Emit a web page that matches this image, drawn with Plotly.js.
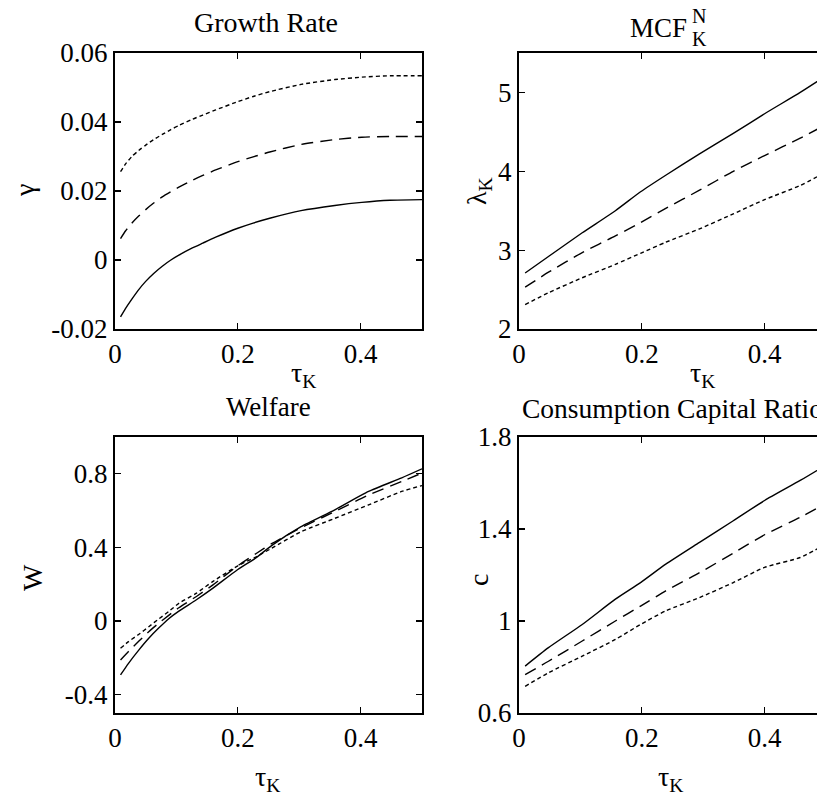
<!DOCTYPE html>
<html>
<head>
<meta charset="utf-8">
<script src="https://cdn.plot.ly/plotly-3.0.1.min.js"></script>
<style>
html, body { margin: 0; padding: 0; overflow: hidden; background: #fff; }
#chart { width: 830px; height: 798px; }
</style>
</head>
<body>
<div id="chart"></div>
<script>
// ---------- data ----------
const growthX = [0.009, 0.017, 0.028, 0.039, 0.05, 0.063, 0.077, 0.091, 0.104, 0.126, 0.143, 0.164, 0.2, 0.225, 0.252, 0.303, 0.358, 0.402, 0.448, 0.5];
const growthSolid  = [-0.0165, -0.0141, -0.0112, -0.0085, -0.0062, -0.0039, -0.0018, 0.0, 0.0014, 0.0035, 0.0049, 0.0066, 0.0092, 0.0107, 0.0121, 0.0143, 0.0158, 0.0167, 0.0173, 0.0175];
const growthDashed = [0.0062, 0.0084, 0.0108, 0.0128, 0.0146, 0.0165, 0.0183, 0.0198, 0.0211, 0.0231, 0.0245, 0.0261, 0.0285, 0.0299, 0.0313, 0.0335, 0.0349, 0.0356, 0.0358, 0.0358];
const growthDotted = [0.0256, 0.0278, 0.0301, 0.0318, 0.0333, 0.0349, 0.0364, 0.0378, 0.039, 0.0408, 0.042, 0.0435, 0.0459, 0.0474, 0.0488, 0.0509, 0.0523, 0.053, 0.0534, 0.0534];

const mcfX = [0.01, 0.048, 0.103, 0.157, 0.198, 0.239, 0.294, 0.349, 0.4, 0.458, 0.49];
const mcfSolid  = [2.71, 2.92, 3.22, 3.5, 3.74, 3.95, 4.22, 4.48, 4.73, 5.0, 5.16];
const mcfDashed = [2.53, 2.72, 2.97, 3.18, 3.35, 3.53, 3.76, 4.0, 4.2, 4.42, 4.55];
const mcfDotted = [2.31, 2.46, 2.65, 2.82, 2.96, 3.1, 3.27, 3.46, 3.64, 3.82, 3.95];

const welfX = [0.009, 0.022, 0.039, 0.055, 0.072, 0.088, 0.104, 0.132, 0.159, 0.2, 0.23, 0.255, 0.303, 0.358, 0.413, 0.467, 0.5];
const welfSolid  = [-0.293, -0.23, -0.157, -0.094, -0.036, 0.014, 0.054, 0.114, 0.177, 0.28, 0.344, 0.41, 0.513, 0.604, 0.704, 0.778, 0.827];
const welfDashed = [-0.212, -0.166, -0.109, -0.058, -0.01, 0.032, 0.072, 0.132, 0.195, 0.3, 0.367, 0.42, 0.507, 0.595, 0.685, 0.758, 0.804];
const welfDotted = [-0.148, -0.112, -0.072, -0.031, 0.013, 0.053, 0.096, 0.15, 0.214, 0.3, 0.349, 0.395, 0.485, 0.558, 0.631, 0.704, 0.736];

const consX = [0.01, 0.048, 0.103, 0.157, 0.198, 0.239, 0.294, 0.349, 0.4, 0.458, 0.49];
const consSolid  = [0.804, 0.884, 0.985, 1.095, 1.167, 1.247, 1.342, 1.436, 1.524, 1.611, 1.662];
const consDashed = [0.767, 0.825, 0.913, 1.0, 1.065, 1.131, 1.21, 1.295, 1.375, 1.451, 1.497];
const consDotted = [0.716, 0.775, 0.847, 0.92, 0.985, 1.044, 1.102, 1.167, 1.233, 1.276, 1.32];

const xTickVals = [0, 0.2, 0.4];
const xTickText = ['0', '0.2', '0.4'];
const growthTickVals = [-0.02, 0, 0.02, 0.04, 0.06];
const growthTickText = ['-0.02', '0', '0.02', '0.04', '0.06'];
const mcfTickVals = [2, 3, 4, 5];
const mcfTickText = ['2', '3', '4', '5'];
const welfTickVals = [-0.4, 0, 0.4, 0.8];
const welfTickText = ['-0.4', '0', '0.4', '0.8'];
const consTickVals = [0.6, 1, 1.4, 1.8];
const consTickText = ['0.6', '1', '1.4', '1.8'];

const titles = ['Growth Rate', 'Welfare', 'Consumption Capital Ratio'];
const mcfTitle = ['MCF', 'N', 'K'];
const yLabels = ['γ', 'λ<sub>K</sub>', 'W', 'c'];
const xLabel = 'τ<sub>K</sub>';

// ---------- layout helpers ----------
const W = 830, H = 798;
const px = v => v / W;
const py = v => 1 - v / H;
const FONT = "'Liberation Serif', 'Times New Roman', serif";

function line(x, y, dash, xa, ya) {
  return { x: x, y: y, xaxis: xa, yaxis: ya, type: 'scatter', mode: 'lines',
    line: { color: '#000', width: 1.4, dash: dash, shape: 'spline', smoothing: 0.6 },
    hoverinfo: 'skip', showlegend: false };
}
const SOLID = 'solid', DASH = '12px,7px', DOT = '4px,3px';

const data = [
  line(growthX, growthSolid, SOLID, 'x', 'y'),
  line(growthX, growthDashed, DASH, 'x', 'y'),
  line(growthX, growthDotted, DOT, 'x', 'y'),
  line(mcfX, mcfSolid, SOLID, 'x2', 'y2'),
  line(mcfX, mcfDashed, DASH, 'x2', 'y2'),
  line(mcfX, mcfDotted, DOT, 'x2', 'y2'),
  line(welfX, welfSolid, SOLID, 'x3', 'y3'),
  line(welfX, welfDashed, DASH, 'x3', 'y3'),
  line(welfX, welfDotted, DOT, 'x3', 'y3'),
  line(consX, consSolid, SOLID, 'x4', 'y4'),
  line(consX, consDashed, DASH, 'x4', 'y4'),
  line(consX, consDotted, DOT, 'x4', 'y4')
];

function axis(extra) {
  return Object.assign({
    showline: true, mirror: 'ticks', linecolor: '#000', linewidth: 2,
    ticks: 'inside', ticklen: 6, tickwidth: 1.2, tickcolor: '#000',
    showgrid: false, zeroline: false, fixedrange: true,
    tickfont: { family: FONT, size: 27, color: '#000' }
  }, extra);
}

const L1 = [115, 422], L2 = [519, 826];
const T1 = [53, 329], T2 = [437, 713];

const layout = {
  width: W, height: H,
  margin: { l: 0, r: 0, t: 0, b: 0 },
  paper_bgcolor: '#fff', plot_bgcolor: '#fff',
  font: { family: FONT, color: '#000' },
  showlegend: false,
  xaxis:  axis({ domain: [px(L1[0]), px(L1[1])], range: [0, 0.5], tickvals: xTickVals, ticktext: xTickText, anchor: 'y' }),
  yaxis:  axis({ domain: [py(T1[1]), py(T1[0])], range: [-0.02, 0.06], tickvals: growthTickVals, ticktext: growthTickText, anchor: 'x' }),
  xaxis2: axis({ domain: [px(L2[0]), px(L2[1])], range: [0, 0.5], tickvals: xTickVals, ticktext: xTickText, anchor: 'y2' }),
  yaxis2: axis({ domain: [py(T1[1]), py(T1[0])], range: [2, 5.5], tickvals: mcfTickVals, ticktext: mcfTickText, anchor: 'x2' }),
  xaxis3: axis({ domain: [px(L1[0]), px(L1[1])], range: [0, 0.5], tickvals: xTickVals, ticktext: xTickText, anchor: 'y3' }),
  yaxis3: axis({ domain: [py(T2[1]), py(T2[0])], range: [-0.5, 1.0], tickvals: welfTickVals, ticktext: welfTickText, anchor: 'x3' }),
  xaxis4: axis({ domain: [px(L2[0]), px(L2[1])], range: [0, 0.5], tickvals: xTickVals, ticktext: xTickText, anchor: 'y4' }),
  yaxis4: axis({ domain: [py(T2[1]), py(T2[0])], range: [0.6, 1.8], tickvals: consTickVals, ticktext: consTickText, anchor: 'x4' }),
  annotations: []
};

function ann(text, x, y, opts) {
  layout.annotations.push(Object.assign({
    text: text, x: px(x), y: py(y), xref: 'paper', yref: 'paper',
    xanchor: 'center', yanchor: 'middle', showarrow: false,
    font: { family: FONT, size: 27, color: '#000' }
  }, opts || {}));
}

// panel titles
ann(titles[0], 266, 22, { font: { family: FONT, size: 28, color: '#000' } });
ann(mcfTitle[0], 689, 28, { xanchor: 'right' });
ann(mcfTitle[1], 690, 16, { xanchor: 'left', font: { family: FONT, size: 20, color: '#000' } });
ann(mcfTitle[2], 690, 39, { xanchor: 'left', font: { family: FONT, size: 20, color: '#000' } });
ann(titles[1], 268, 407);
ann(titles[2], 520, 408, { xanchor: 'left', font: { family: FONT, size: 27.5, color: '#000' } });

// y labels
const yl = { textangle: -90, font: { family: FONT, size: 28, color: '#000' } };
ann(yLabels[0], 24, 191, yl);
ann(yLabels[1], 478, 191, yl);
ann(yLabels[2], 32, 578, yl);
ann(yLabels[3], 478, 580, yl);

// x labels
const xl = { font: { family: FONT, size: 28, color: '#000' } };
ann(xLabel, 303, 374, xl);
ann(xLabel, 702, 374, xl);
ann(xLabel, 267, 778, xl);
ann(xLabel, 670, 778, xl);

Plotly.newPlot('chart', data, layout, { displayModeBar: false, staticPlot: true });
</script>
</body>
</html>
